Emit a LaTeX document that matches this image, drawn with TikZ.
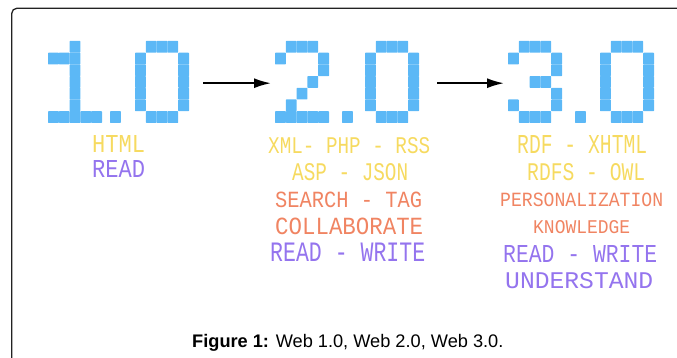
\documentclass[tikz,border=0pt]{standalone}
\usepackage{fontspec}
\usepackage{graphicx}
\setmainfont{Liberation Sans}
\newfontfamily\lcdfont{Liberation Mono}
\usetikzlibrary{arrows.meta}
\definecolor{pixblue}{HTML}{5CB8F6}
\definecolor{lcdyellow}{HTML}{F6DA60}
\definecolor{lcdsalmon}{HTML}{F08462}
\definecolor{lcdpurple}{HTML}{9474EE}
\definecolor{framegray}{HTML}{222222}

% one glyph of the block font: x of its left edge, macro holding col/row cells
\newcommand{\pixglyph}[2]{%
  \foreach \c/\r in #2{%
    \fill[pix] ({#1+\c*10.8},{41+\r*11.7}) rectangle ++(10.8,11.7);}}
% one line of dot-matrix text: name, left, top, width, height, colour, text
\newcommand{\lcdline}[7]{%
  \node[lcd, text=#6] (#1) at (#2,#3) {\resizebox{#4pt}{#5pt}{#7}};}

\tikzset{
  pix/.style={fill=pixblue, rounded corners=0.6pt},
  lcd/.style={inner sep=0pt, anchor=north west, font=\lcdfont},
  group/.style={inner sep=0pt, minimum height=84pt, anchor=north west},
  conn/.style={line width=1.8pt, -{Latex[length=17pt,width=10pt]},
               shorten <=15pt, shorten >=4pt},
}

\begin{document}
\begin{tikzpicture}[x=1pt, y=-1pt]
\useasboundingbox (0,0) rectangle (677,358);
\clip (0,0) rectangle (677,358);

% frame, open to the right and below
\draw[line width=1.3pt, framegray, rounded corners=5pt]
  (700,8.3) -- (11.8,8.3) -- (11.8,380);

% version numbers in block digits
\def\one{2/0, 0/1,1/1,2/1, 2/2,2/3,2/4,2/5, 0/6,1/6,2/6,3/6,4/6}
\def\zero{1/0,2/0,3/0, 0/1,4/1,0/2,4/2,0/3,4/3,0/4,4/4,0/5,4/5, 1/6,2/6,3/6}
\def\two{1/0,2/0,3/0, 0/1,4/1, 4/2, 3/3, 2/4, 1/5, 0/6,1/6,2/6,3/6,4/6}
\def\three{1/0,2/0,3/0, 0/1,4/1, 4/2, 2/3,3/3, 4/4, 0/5,4/5, 1/6,2/6,3/6}
\def\point{0/6}

\pixglyph{48}{\one}   \pixglyph{110}{\point} \pixglyph{135}{\zero}
\pixglyph{275}{\two}  \pixglyph{342}{\point} \pixglyph{365}{\zero}
\pixglyph{508}{\three}\pixglyph{575}{\point} \pixglyph{600}{\zero}

\node[group, minimum width=140pt] (web1) at (48,41) {};
\node[group, minimum width=147pt] (web2) at (275,41) {};
\node[group, minimum width=147pt] (web3) at (508,41) {};

\draw[conn] (web1.east) -- (web2.west);
\draw[conn] (web2.east) -- (web3.west);

% Web 1.0
\lcdline{html}{92}{135}{53}{17}{lcdyellow}{HTML}
\lcdline{read}{92}{160}{53}{17}{lcdpurple}{READ}

% Web 2.0
\lcdline{xml}{268}{137}{162}{16}{lcdyellow}{XML- PHP - RSS}
\lcdline{asp}{292}{163}{116}{17}{lcdyellow}{ASP - JSON}
\lcdline{search}{275}{191.5}{147}{15.5}{lcdsalmon}{SEARCH - TAG}
\lcdline{collab}{275}{218}{148}{16.5}{lcdsalmon}{COLLABORATE}
\lcdline{rwtwo}{270}{243}{155}{18.5}{lcdpurple}{READ - WRITE}

% Web 3.0
\lcdline{rdf}{517}{135}{130}{18}{lcdyellow}{RDF - XHTML}
\lcdline{rdfs}{527}{163}{118}{17}{lcdyellow}{RDFS - OWL}
\lcdline{person}{500}{193}{163}{13.5}{lcdsalmon}{PERSONALIZATION}
\lcdline{know}{533}{220}{97}{13}{lcdsalmon}{KNOWLEDGE}
\lcdline{rwthree}{503}{245}{154}{17}{lcdpurple}{READ - WRITE}
\lcdline{under}{505}{272}{148}{16}{lcdpurple}{UNDERSTAND}

% caption
\node[inner sep=0pt, anchor=base west, font=\fontsize{18.2}{20}\selectfont]
  (caption) at (192,347.3) {\textbf{Figure 1:} Web 1.0, Web 2.0, Web 3.0.};
\end{tikzpicture}
\end{document}
